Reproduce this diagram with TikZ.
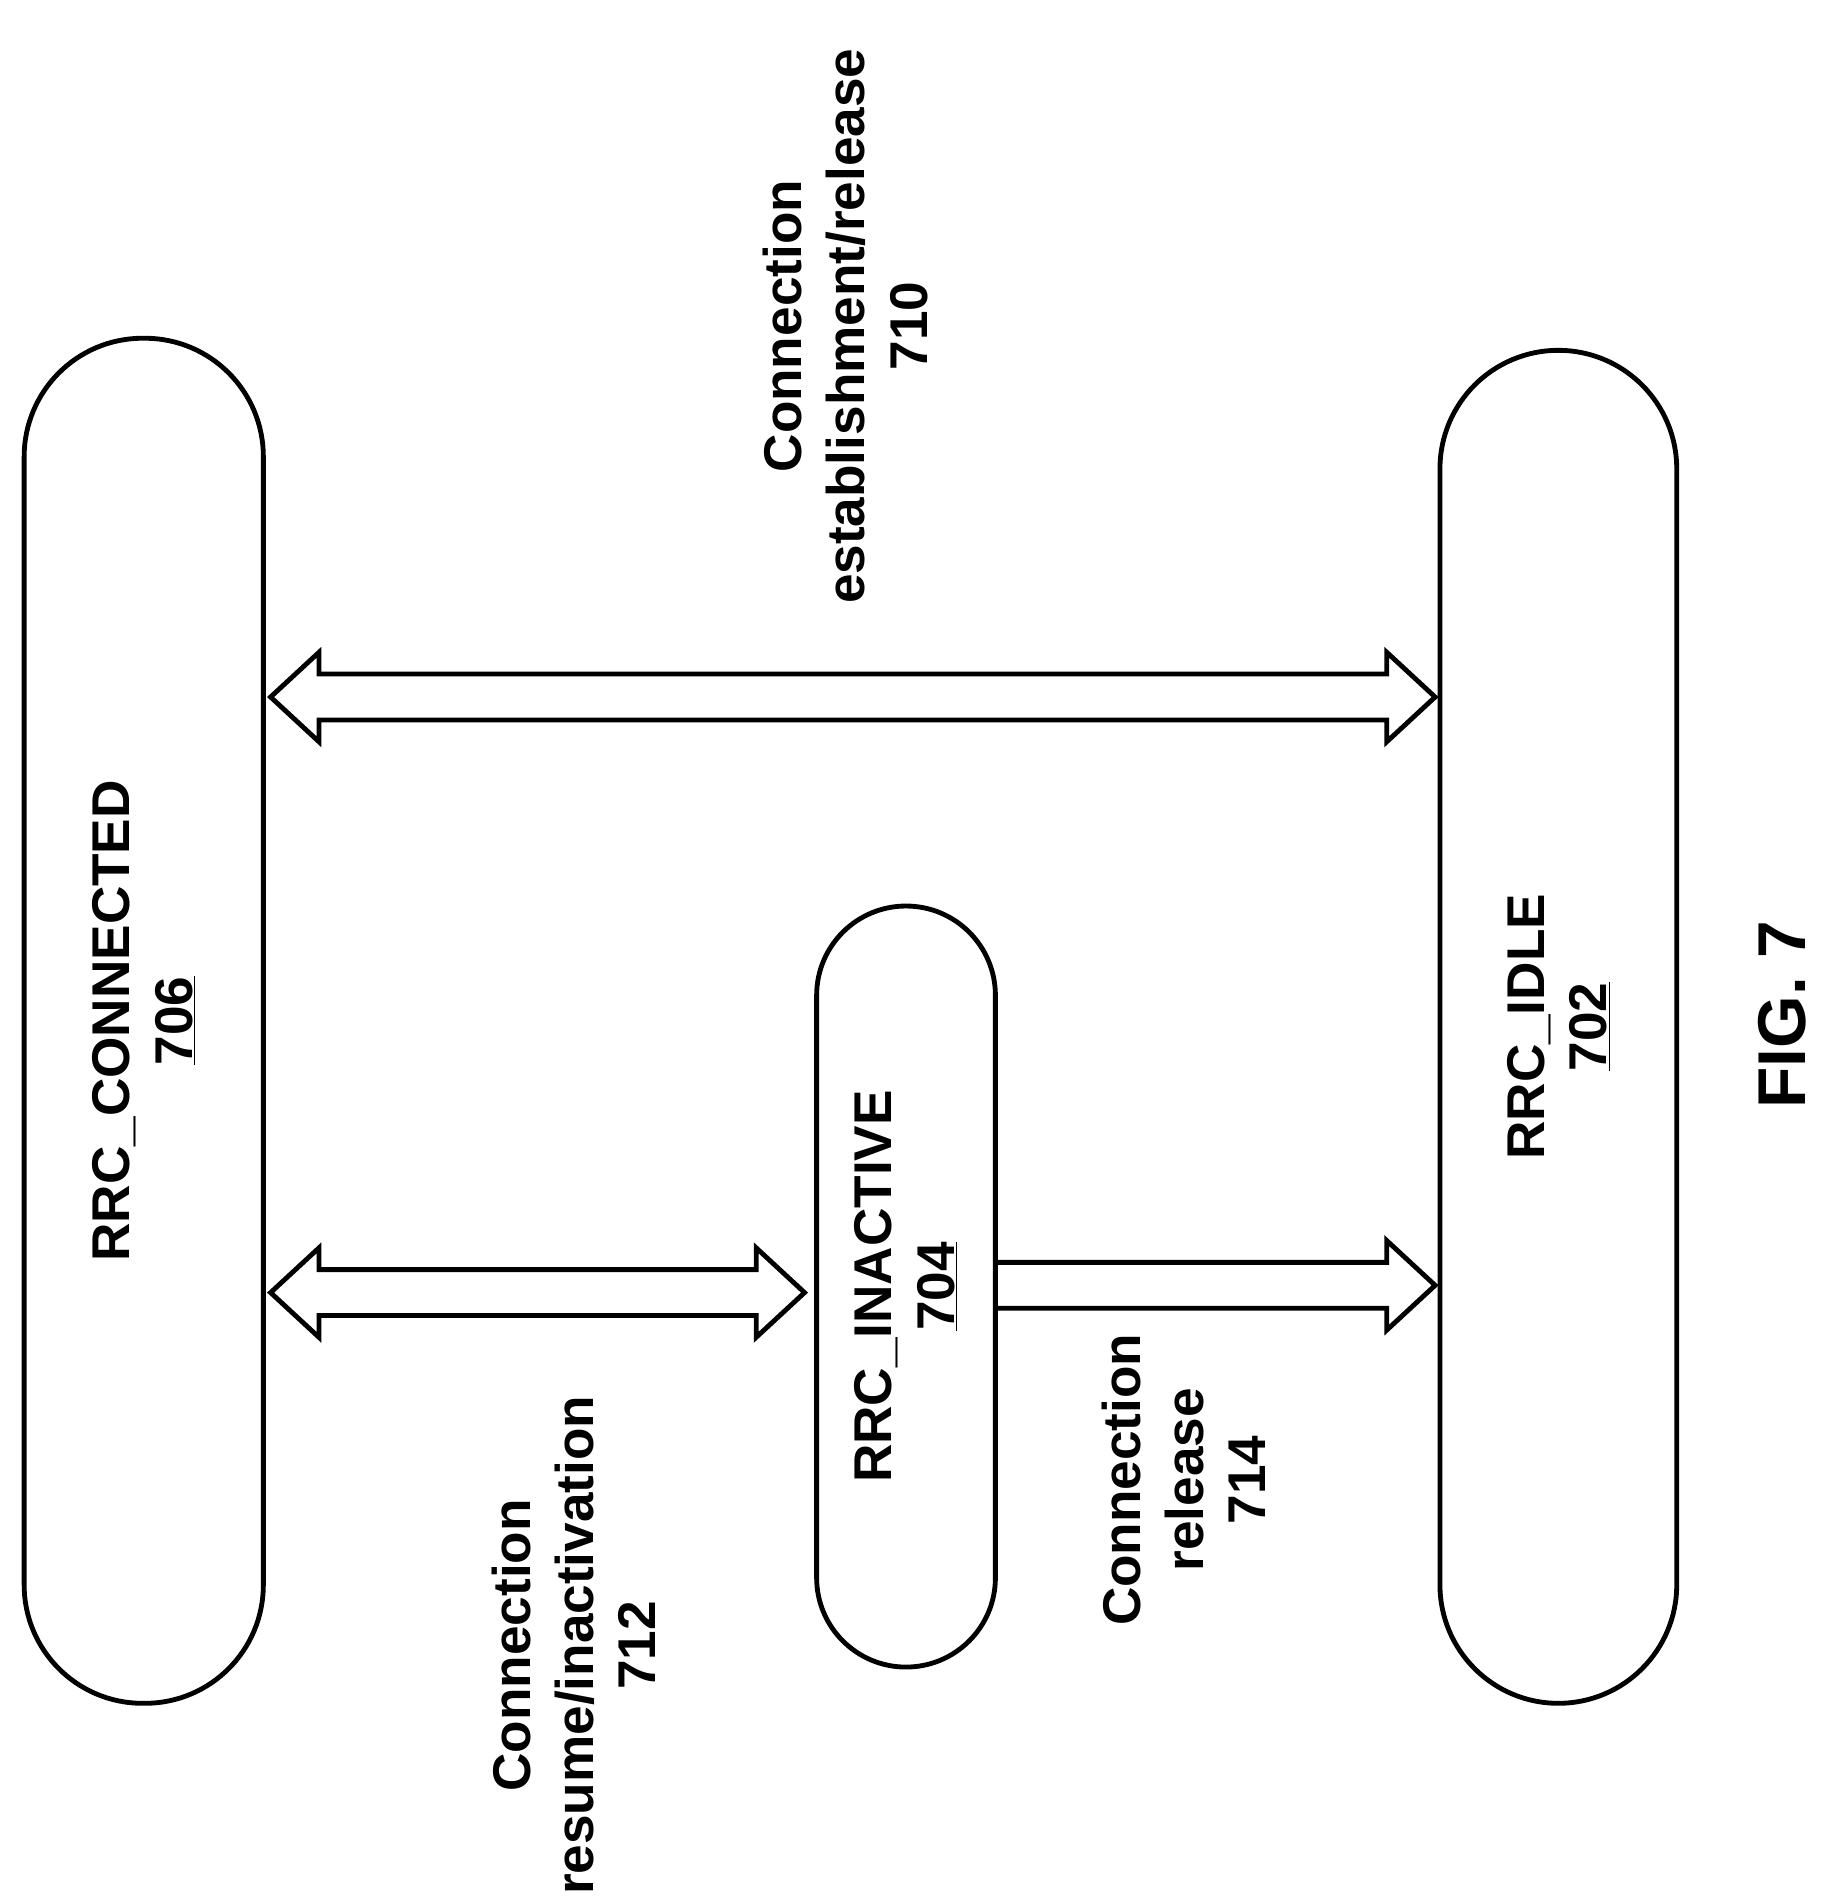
\documentclass[tikz,border=0pt]{standalone}
\usepackage{fontspec}
\setmainfont{Liberation Sans}
\usetikzlibrary{positioning}
\newcommand\dblarrow[2]{%
  \draw[fat] (#1) -- ([xshift=40pt,yshift=37pt]#1) -- ([xshift=40pt,yshift=19pt]#1)
    -- ([xshift=-40pt,yshift=19pt]#2) -- ([xshift=-40pt,yshift=37pt]#2) -- (#2)
    -- ([xshift=-40pt,yshift=-37pt]#2) -- ([xshift=-40pt,yshift=-19pt]#2)
    -- ([xshift=40pt,yshift=-19pt]#1) -- ([xshift=40pt,yshift=-37pt]#1) -- cycle;}
\newcommand\sglarrow[2]{%
  \draw[fat] ([yshift=19pt]#1) -- ([xshift=-40pt,yshift=19pt]#2) -- ([xshift=-40pt,yshift=37pt]#2)
    -- (#2) -- ([xshift=-40pt,yshift=-37pt]#2) -- ([xshift=-40pt,yshift=-19pt]#2)
    -- ([yshift=-19pt]#1);}
\begin{document}
\begin{tikzpicture}[x=1pt,y=-1pt,
  state/.style={draw, line width=4pt, rounded corners=98pt, inner sep=0pt},
  txt/.style={rotate=90, align=center, font=\bfseries\fontsize{44}{52}\selectfont},
  fat/.style={line width=4pt, line join=miter}]
\useasboundingbox (0,0) rectangle (1520,1572);

%draw states
\node[state, minimum width=198pt, minimum height=1130pt] (conn) at (119,845) {};
\node[state, minimum width=148pt, minimum height=630pt, rounded corners=74pt] (inact) at (750,1065) {};
\node[state, minimum width=196pt, minimum height=1120pt] (idle) at (1290,850) {};

%draw state names
\node[txt] (conntxt) at (conn.center) {RRC\_CONNECTED\\\underline{706}};
\node[txt] (inacttxt) at (inact.center) {RRC\_INACTIVE\\\underline{704}};
\node[txt] (idletxt) at (idle.center) {RRC\_IDLE\\\underline{702}};

%draw arrows
\coordinate (a710l) at ([xshift=4pt]conn.east |- 0,577);
\coordinate (a710r) at ([xshift=-2pt]idle.west |- 0,577);
\coordinate (a712l) at ([xshift=4pt]conn.east |- 0,1070);
\coordinate (a712r) at ([xshift=-8pt]inact.west |- 0,1070);
\coordinate (a714l) at (inact.east |- 0,1064);
\coordinate (a714r) at ([xshift=-2pt]idle.west |- 0,1064);
\dblarrow{a710l}{a710r}
\dblarrow{a712l}{a712r}
\sglarrow{a714l}{a714r}

%draw labels
\node[txt] (l710) at (700,270) {Connection\\establishment/release\\710};
\node[txt] (l712) at (475,1362) {Connection\\resume/inactivation\\712};
\node[txt] (l714) at (980,1225) {Connection\\release\\714};
\node[txt, font=\bfseries\fontsize{56}{64}\selectfont] (fig) at (1475,840) {FIG. 7};
\end{tikzpicture}
\end{document}
